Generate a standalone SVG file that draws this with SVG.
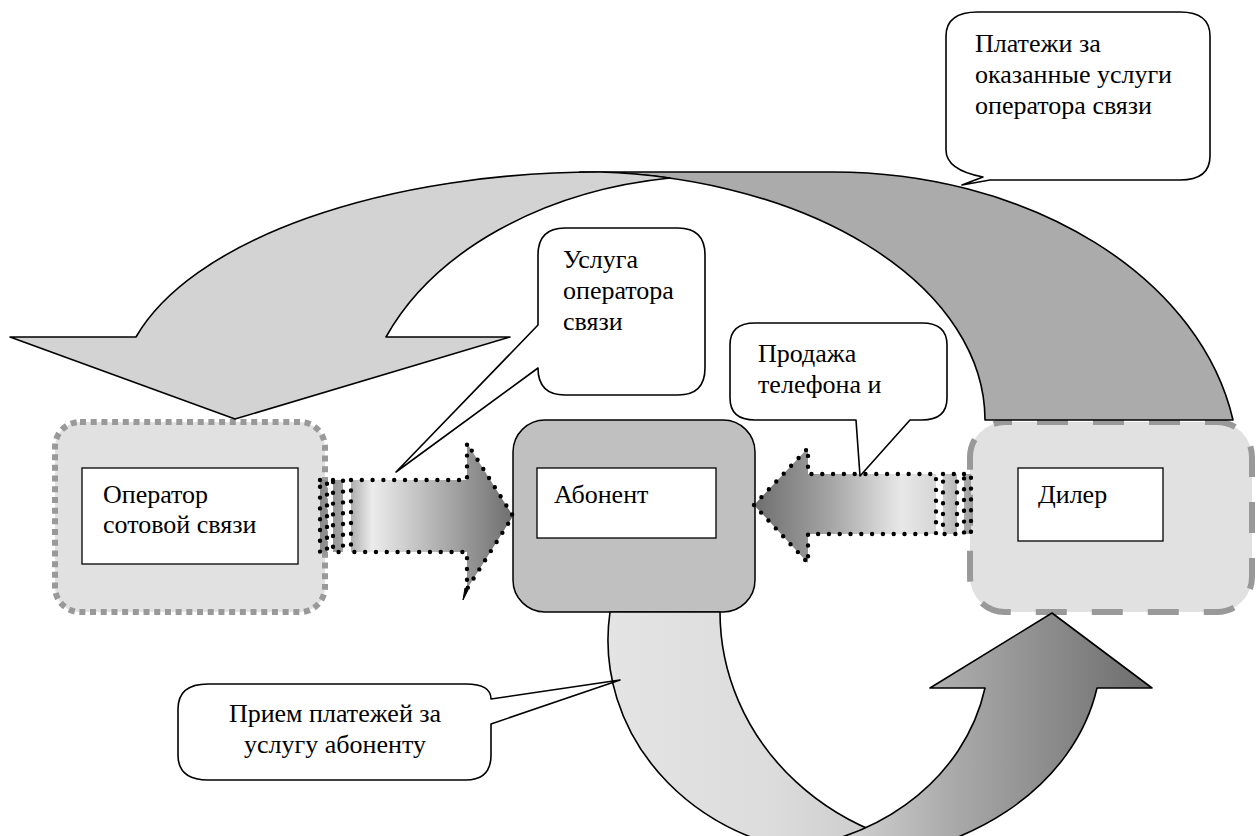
<svg xmlns="http://www.w3.org/2000/svg" width="1257" height="836" viewBox="0 0 1257 836">
<defs>
<linearGradient id="gB" gradientUnits="userSpaceOnUse" x1="610" y1="0" x2="1152" y2="0">
<stop offset="0" stop-color="#e4e4e4"/>
<stop offset="0.3" stop-color="#dcdcdc"/>
<stop offset="0.45" stop-color="#cfcfcf"/>
<stop offset="0.62" stop-color="#acacac"/>
<stop offset="1" stop-color="#6c6c6c"/>
</linearGradient>
<linearGradient id="gR" gradientUnits="userSpaceOnUse" x1="320" y1="0" x2="513" y2="0">
<stop offset="0" stop-color="#8a8a8a"/>
<stop offset="0.15" stop-color="#a8a8a8"/>
<stop offset="0.27" stop-color="#ececec"/>
<stop offset="0.5" stop-color="#c4c4c4"/>
<stop offset="1" stop-color="#6e6e6e"/>
</linearGradient>
<linearGradient id="gL" gradientUnits="userSpaceOnUse" x1="754" y1="0" x2="971" y2="0">
<stop offset="0" stop-color="#6e6e6e"/>
<stop offset="0.35" stop-color="#a4a4a4"/>
<stop offset="0.68" stop-color="#e8e8e8"/>
<stop offset="0.84" stop-color="#d6d6d6"/>
<stop offset="1" stop-color="#a0a0a0"/>
</linearGradient>
</defs>
<style>
text{font-family:'Liberation Serif','Times New Roman',serif;font-size:26px;fill:#000}
.o{stroke:#000;stroke-width:1.6;stroke-linejoin:round}
.box{fill:#fff;stroke:#000;stroke-width:1.3}
.dots{fill:none;stroke:#000;stroke-width:4.4;stroke-dasharray:0 10.8;stroke-linecap:round;stroke-linejoin:round}
.callout{fill:#fff;stroke:#000;stroke-width:1.6;stroke-linejoin:round}
.grp{fill:#e1e1e1;stroke:#999;stroke-width:6}
</style>
<rect width="1257" height="836" fill="#fff"/>

<g id="node-operator">
<rect class="grp" x="55" y="422" width="270" height="190" rx="25" stroke-dasharray="6 4.7"/>
<rect class="box" x="82" y="468" width="216" height="96"/>
<text x="103" y="503">Оператор</text>
<text x="103" y="533">сотовой связи</text>
</g>

<g id="node-subscriber">
<rect x="513" y="420" width="242" height="192" rx="32" fill="#c0c0c0" stroke="#000" stroke-width="1.5"/>
<rect class="box" x="537" y="468" width="179" height="70"/>
<text x="554" y="503">Абонент</text>
</g>

<g id="node-dealer">
<rect class="grp" x="970" y="422" width="282" height="190" rx="35" stroke-dasharray="31 25" stroke-dashoffset="24"/>
<rect class="box" x="1018" y="468" width="145" height="73"/>
<text x="1038" y="503">Дилер</text>
</g>

<g id="connectors">
<g id="arrow-payments-top">
<path class="o" fill="#ababab" d="M580,172 L833,172 A406,298 0 0 1 1233,420 L985,420 A405,248 0 0 0 580,172 Z"/>
<path class="o" fill="#d3d3d3" d="M136,337 A480,222 0 0 1 600,172 A405,248 0 0 1 670,178 A360,256 0 0 0 386,337 L510,337 L235,419 L10,337 Z"/>
</g>
<g id="arrow-payments-bottom">
<path class="o" fill="url(#gB)" d="M610,612 A238,215 0 0 0 848,855 L979,852 A259,240 0 0 1 720,612 Z"/>
<path class="o" fill="url(#gB)" d="M985,688 A228,200 0 0 1 759,850 L838,860 A263,210 0 0 0 1097,688 L1152,688 L1052,613 L930,688 Z"/>
</g>
<g id="arrow-service">
<rect x="320" y="480" width="7" height="72" fill="url(#gR)"/>
<rect x="333" y="480" width="10" height="72" fill="url(#gR)"/>
<path fill="url(#gR)" d="M351,480 H467 V443 L513,516 L467,589 V552 H351 Z"/>
<rect class="dots" x="320" y="480" width="7" height="72"/>
<rect class="dots" x="333" y="480" width="10" height="72"/>
<path class="dots" d="M351,480 H467 V443 L513,516 L467,589 V552 H351 Z"/>
<path d="M465,588 L468,590 L463,600 Z" fill="#000" stroke="#000" stroke-width="1"/>
</g>
<g id="arrow-sale">
<path fill="url(#gL)" d="M754,505 L808,448 V474 H936 V534 H808 V563 Z"/>
<rect x="943" y="474" width="14" height="60" fill="url(#gL)"/>
<rect x="964" y="474" width="7" height="60" fill="url(#gL)"/>
<path class="dots" d="M754,505 L808,448 V474 H936 V534 H808 V563 Z"/>
<rect class="dots" x="943" y="474" width="14" height="60"/>
<rect class="dots" x="964" y="474" width="7" height="60"/>
</g>
</g>

<g id="callout-service">
<path class="callout" d="M565,228 H678 Q705,228 705,255 V368 Q705,395 678,395 H565 Q538,395 538,368 L396,472 L538,325 V255 Q538,228 565,228 Z"/>
<text x="563" y="268">Услуга</text>
<text x="563" y="299">оператора</text>
<text x="563" y="330">связи</text>
</g>

<g id="callout-sale">
<path class="callout" d="M755,323 H922 Q947,323 947,345 V398 Q947,420 922,420 H910 L860,476 L856,420 H755 Q730,420 730,398 V345 Q730,323 755,323 Z"/>
<text x="758" y="362">Продажа</text>
<text x="758" y="393">телефона и</text>
</g>

<g id="callout-payments">
<path class="callout" d="M978,12 H1180 Q1210,12 1210,36 V156 Q1210,180 1180,180 H990 L962,185 L983,177 Q946,170 946,150 V36 Q946,12 978,12 Z"/>
<text x="975" y="52">Платежи за</text>
<text x="975" y="83">оказанные услуги</text>
<text x="975" y="114">оператора связи</text>
</g>

<g id="callout-receipt">
<path class="callout" d="M208,684 H466 Q491,684 491,699 L620,680 L491,724 V755 Q491,780 466,780 H208 Q178,780 178,755 V709 Q178,684 208,684 Z"/>
<text x="335" y="722" text-anchor="middle">Прием платежей за</text>
<text x="335" y="753" text-anchor="middle">услугу абоненту</text>
</g>
</svg>
